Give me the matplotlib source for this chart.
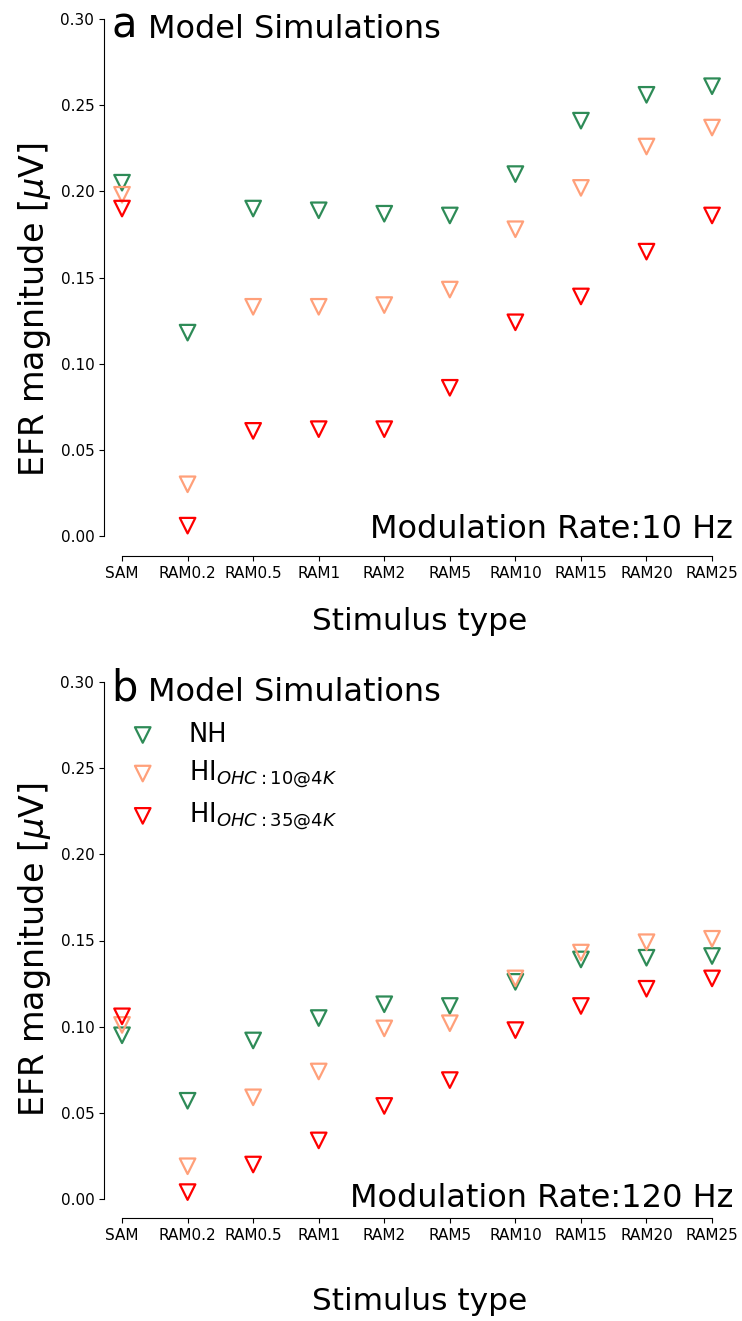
import numpy as np
import matplotlib
matplotlib.use("Agg")
import matplotlib.pyplot as plt

plt.rcParams["font.family"] = ["DejaVu Sans"]
plt.rcParams["mathtext.fontset"] = "dejavusans"

stimuli = ["SAM", "RAM0.2", "RAM0.5", "RAM1", "RAM2", "RAM5",
           "RAM10", "RAM15", "RAM20", "RAM25"]
groups = ["NH", r"HI$_{OHC:10@4K}$", r"HI$_{OHC:35@4K}$"]
colors = ["seagreen", "lightsalmon", "red"]

# modulation rate 10 Hz
nh_10 = [0.205, 0.118, 0.190, 0.189, 0.187, 0.186, 0.210, 0.241, 0.256, 0.261]
hi10_10 = [0.198, 0.030, 0.133, 0.133, 0.134, 0.143, 0.178, 0.202, 0.226, 0.237]
hi35_10 = [0.190, 0.006, 0.061, 0.062, 0.062, 0.086, 0.124, 0.139, 0.165, 0.186]

# modulation rate 120 Hz
nh_120 = [0.095, 0.057, 0.092, 0.105, 0.113, 0.112, 0.126, 0.139, 0.140, 0.141]
hi10_120 = [0.101, 0.019, 0.059, 0.074, 0.099, 0.102, 0.128, 0.143, 0.149, 0.151]
hi35_120 = [0.106, 0.004, 0.020, 0.034, 0.054, 0.069, 0.098, 0.112, 0.122, 0.128]

panels = [
    ("a", "Modulation Rate:10 Hz", [nh_10, hi10_10, hi35_10]),
    ("b", "Modulation Rate:120 Hz", [nh_120, hi10_120, hi35_120]),
]

W, H = 742, 1321
fig = plt.figure(figsize=(W / 100, H / 100), dpi=100)

# axes boxes in pixels: left, top, right, bottom
boxes = [(104, 19, 735, 556), (104, 682, 735, 1218)]
zero_px = [536, 1199]
xlabel_pad = [19, 32]
ylabel_y = [0.458, 0.5]
text_y = [0.034, 0.021]

x = np.arange(len(stimuli))
for i, (letter, rate, series) in enumerate(panels):
    l, t, r, b = boxes[i]
    ax = fig.add_axes([l / W, 1 - b / H, (r - l) / W, (b - t) / H])
    ppu = (zero_px[i] - t) / 0.30
    ax.set_ylim(-(b - zero_px[i]) / ppu, 0.30)
    ax.set_xlim(-0.275, 9.35)
    for vals, c, g in zip(series, colors, groups):
        ax.scatter(x, vals, marker="v", s=125, facecolors="none",
                   edgecolors=c, linewidths=1.6, label=g, clip_on=False,
                   zorder=3)
    ax.set_xticks(x)
    ax.set_xticklabels(stimuli, fontsize=11)
    yt = np.arange(0, 0.301, 0.05)
    ax.set_yticks(yt)
    ax.set_yticklabels([f"{v:.2f}" for v in yt], fontsize=11)
    for s in ["top", "right"]:
        ax.spines[s].set_visible(False)
    ax.spines["left"].set_bounds(0, 0.30)
    ax.spines["bottom"].set_bounds(0, 9)
    ax.set_ylabel(r"EFR magnitude [$\mu$V]", fontsize=24, labelpad=5)
    ax.yaxis.label.set_y(ylabel_y[i])
    ax.set_xlabel("Stimulus type", fontsize=22.5, labelpad=xlabel_pad[i])
    ax.text(0.012, 0.965, letter, transform=ax.transAxes, fontsize=30,
            va="baseline", ha="left")
    ax.text(0.07, 0.965, "Model Simulations", transform=ax.transAxes,
            fontsize=23, va="baseline", ha="left")
    ax.text(0.997, text_y[i], rate, transform=ax.transAxes, fontsize=23,
            va="baseline", ha="right")
    if i == 1:
        ax.legend(loc="upper left", bbox_to_anchor=(-0.016, 0.969),
                  frameon=False, fontsize=18.5, handletextpad=0.8,
                  labelspacing=0.42, scatterpoints=1)

fig.savefig("out.png", dpi=100)
